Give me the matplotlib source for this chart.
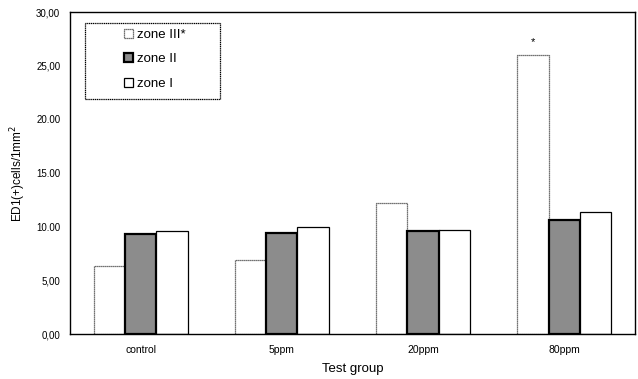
import numpy as np
import matplotlib.pyplot as plt
from matplotlib.patches import Rectangle

groups = ["control", "5ppm", "20ppm", "80ppm"]
zone_iii = [6.3, 6.9, 12.2, 26.0]
zone_ii = [9.3, 9.4, 9.6, 10.6]
zone_i = [9.6, 9.95, 9.7, 11.4]
series_labels = ["zone III*", "zone II", "zone I"]
ytick_values = [0, 5, 10, 15, 20, 25, 30]
ytick_labels = ["0,00", "5,00", "10.00", "15.00", "20.00", "25,00", "30,00"]

plt.rcParams["font.family"] = ["Liberation Sans", "DejaVu Sans"]

fig = plt.figure(figsize=(6.38, 3.79), dpi=100)
ax = fig.add_axes([0.1097, 0.1187, 0.8853, 0.8493])

x = np.arange(len(groups))
w = 0.222

ax.bar(x - w, zone_iii, w, color="white", edgecolor="#444444",
       linewidth=0.9, linestyle=(0, (1, 0.6)), label=series_labels[0])
ax.bar(x, zone_ii, w, color="#8c8c8c", edgecolor="black",
       linewidth=1.6, label=series_labels[1])
ax.bar(x + w, zone_i, w, color="white", edgecolor="black",
       linewidth=0.9, label=series_labels[2])

# significance mark on the 80ppm zone III bar
ax.text(x[3] - w, zone_iii[3] + 1.2, "*", ha="center", va="center", fontsize=8)

ax.set_xlim(-0.5, 3.5)
ax.set_ylim(0, 30)
ax.set_yticks(ytick_values)
ax.set_yticklabels(ytick_labels, fontsize=7)
ax.set_xticks(x)
ax.set_xticklabels(groups, fontsize=7.5)
ax.tick_params(length=0, pad=8)
ax.tick_params(axis="y", pad=7)

for s in ax.spines.values():
    s.set_linewidth(1.0)

ax.set_xlabel("Test group", fontsize=9.5, labelpad=6)
ax.set_ylabel("ED1(+)cells/1mm$^2$", fontsize=8.5, labelpad=6)

# legend box
ax.add_patch(Rectangle((0.027, 0.73), 0.239, 0.236, transform=ax.transAxes,
                       fill=False, edgecolor="black", linewidth=0.9,
                       linestyle=(0, (1, 0.5)), zorder=4))
ax.legend(loc="upper left", bbox_to_anchor=(0.075, 0.985), frameon=False,
          fontsize=9.5, handlelength=0.65, handleheight=0.65,
          handletextpad=0.3, labelspacing=0.95)

fig.savefig("out.png", dpi=100)
